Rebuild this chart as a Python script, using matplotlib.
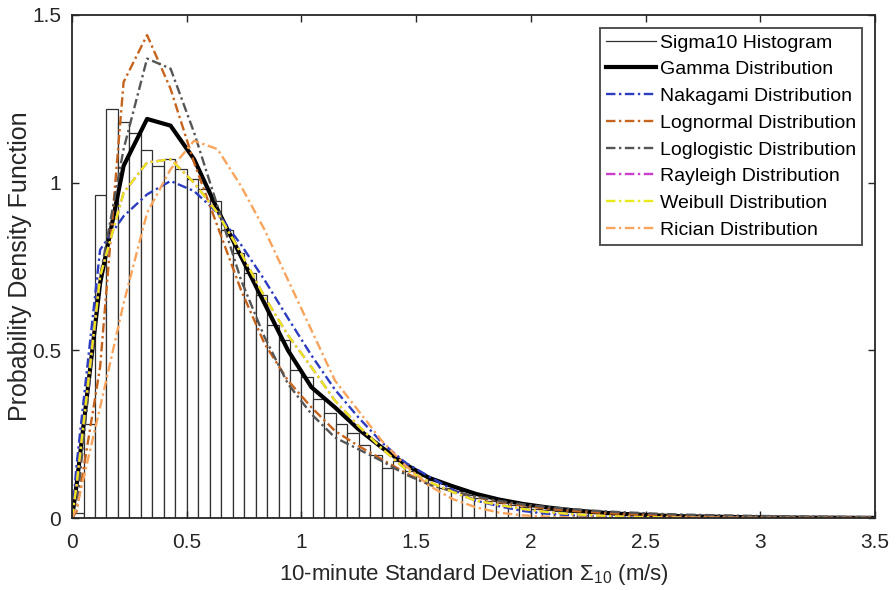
import numpy as np
import matplotlib
matplotlib.use('Agg')
import matplotlib.pyplot as plt
from matplotlib.lines import Line2D

plt.rcParams['font.family'] = ['Liberation Sans', 'DejaVu Sans']
plt.rcParams['mathtext.fontset'] = 'custom'
plt.rcParams['mathtext.rm'] = 'Liberation Sans'
plt.rcParams['mathtext.it'] = 'Liberation Sans'

# Histograma (ancho de clase 0.05, de 0 a 3.5)
bin_width = 0.05
hist_vals = [0.015, 0.28, 0.963, 1.22, 1.18, 1.147, 1.097, 1.05, 1.07, 1.04,
             1.01, 0.98, 0.944, 0.86, 0.79, 0.73, 0.666, 0.576, 0.53, 0.44,
             0.42, 0.355, 0.313, 0.28, 0.253, 0.218, 0.188, 0.148, 0.17, 0.14,
             0.125, 0.113, 0.09, 0.08, 0.068, 0.06, 0.05, 0.045, 0.038, 0.033,
             0.028, 0.025, 0.022, 0.019, 0.017, 0.015, 0.013, 0.012, 0.011, 0.010,
             0.009, 0.008, 0.007, 0.0065, 0.006, 0.0055, 0.005, 0.0045, 0.004, 0.0038,
             0.0035, 0.0032, 0.003, 0.0028, 0.0026, 0.0024, 0.0022, 0.002, 0.0018, 0.0016]
bin_left = np.arange(len(hist_vals)) * bin_width

# Curvas ajustadas (evaluadas en una malla gruesa)
x_fit = np.r_[0, np.linspace(0.02, 3.5, 35)]
gamma = [0, 0.10, 0.70, 1.05, 1.19, 1.17, 1.07, 0.92, 0.78, 0.64,
         0.50, 0.39, 0.33, 0.265, 0.21, 0.16, 0.12, 0.095, 0.072, 0.055,
         0.042, 0.032, 0.024, 0.018, 0.013, 0.010, 0.007, 0.005, 0.004, 0.003,
         0.002, 0.0015, 0.001, 0.001, 0.0005, 0.0004]
nakagami = [0, 0.16, 0.80, 0.90, 0.965, 1.005, 0.975, 0.91, 0.815, 0.71,
            0.596, 0.485, 0.383, 0.30, 0.225, 0.165, 0.124, 0.085, 0.052, 0.035,
            0.021, 0.013, 0.008, 0.005, 0.003, 0.002, 0.001, 0.0006, 0.0003, 0.0002,
            0.0001, 0, 0, 0, 0, 0]
lognormal = [0, 0.02, 0.45, 1.30, 1.44, 1.28, 1.06, 0.87, 0.68, 0.52,
             0.41, 0.33, 0.26, 0.215, 0.175, 0.135, 0.10, 0.08, 0.062, 0.048,
             0.037, 0.028, 0.022, 0.017, 0.013, 0.010, 0.008, 0.006, 0.005, 0.004,
             0.003, 0.0025, 0.002, 0.0017, 0.0014, 0.0012]
loglogistic = [0, 0.03, 0.72, 1.10, 1.37, 1.34, 1.15, 0.93, 0.71, 0.54,
               0.40, 0.31, 0.24, 0.205, 0.17, 0.13, 0.10, 0.08, 0.064, 0.051,
               0.041, 0.033, 0.027, 0.022, 0.018, 0.015, 0.012, 0.010, 0.0085, 0.0072,
               0.0062, 0.0053, 0.0046, 0.004, 0.0035, 0.003]
weibull = [0, 0.10, 0.72, 0.97, 1.06, 1.07, 1.00, 0.91, 0.79, 0.66,
           0.545, 0.45, 0.35, 0.275, 0.207, 0.146, 0.108, 0.078, 0.052, 0.039,
           0.027, 0.018, 0.012, 0.008, 0.005, 0.003, 0.002, 0.001, 0.0007, 0.0004,
           0.0002, 0.0001, 0, 0, 0, 0]
rayleigh = list(weibull)  # queda tapada por la Weibull
rician = [0, 0.03, 0.33, 0.64, 0.91, 1.04, 1.125, 1.10, 0.99, 0.86,
          0.71, 0.56, 0.41, 0.32, 0.23, 0.157, 0.097, 0.057, 0.032, 0.016,
          0.008, 0.004, 0.002, 0.001, 0, 0, 0, 0, 0, 0,
          0, 0, 0, 0, 0, 0]

x_ticks = [0, 0.5, 1, 1.5, 2, 2.5, 3, 3.5]
x_tick_labels = ['0', '0.5', '1', '1.5', '2', '2.5', '3', '3.5']
y_ticks = [0, 0.5, 1, 1.5]
y_tick_labels = ['0', '0.5', '1', '1.5']

curvas = [
    ('Nakagami Distribution', nakagami, '#2b3cc0'),
    ('Lognormal Distribution', lognormal, '#c6631d'),
    ('Loglogistic Distribution', loglogistic, '#555555'),
    ('Rayleigh Distribution', rayleigh, '#cc3fcc'),
    ('Weibull Distribution', weibull, '#e8e81a'),
    ('Rician Distribution', rician, '#f8a45c'),
]

fig = plt.figure(figsize=(8.96, 5.9), dpi=100)
ax = fig.add_axes([0.0804, 0.122, 0.8962, 0.8526])

ax.bar(bin_left, hist_vals, width=bin_width, align='edge',
       facecolor='white', edgecolor='#303030', linewidth=0.9)

handles = [Line2D([], [], color='#303030', lw=0.9, label='Sigma10 Histogram')]
h, = ax.plot(x_fit, gamma, color='black', lw=3.0, label='Gamma Distribution')
handles.append(h)
for nombre, vals, color in curvas:
    h, = ax.plot(x_fit, vals, color=color, lw=1.7, ls=(0, (4, 1.5, 1, 1.5)), label=nombre)
    handles.append(h)

ax.set_xlim(0, 3.5)
ax.set_ylim(0, 1.5)
ax.set_xticks(x_ticks)
ax.set_xticklabels(x_tick_labels)
ax.set_yticks(y_ticks)
ax.set_yticklabels(y_tick_labels)
ax.tick_params(direction='in', top=True, right=True, length=5, width=1,
               labelsize=15, colors='#262626')
ax.tick_params(axis='x', pad=11)
ax.tick_params(axis='y', pad=8)
for s in ax.spines.values():
    s.set_linewidth(1.3)
    s.set_color('#262626')

ax.set_xlabel(r'10-minute Standard Deviation $\Sigma_{10}$ (m/s)', fontsize=16,
              color='#262626', labelpad=7)
ax.set_ylabel('Probability Density Function', fontsize=18, color='#262626', labelpad=0)

leg = ax.legend(handles=handles, loc='upper right', fontsize=14, frameon=True,
                fancybox=False, edgecolor='#262626', handlelength=2.6,
                handletextpad=0.2, labelspacing=0.47, borderpad=0.3,
                borderaxespad=0, bbox_to_anchor=(0.984, 0.974))
leg.get_frame().set_linewidth(1.4)

plt.savefig('out.png', dpi=100)
